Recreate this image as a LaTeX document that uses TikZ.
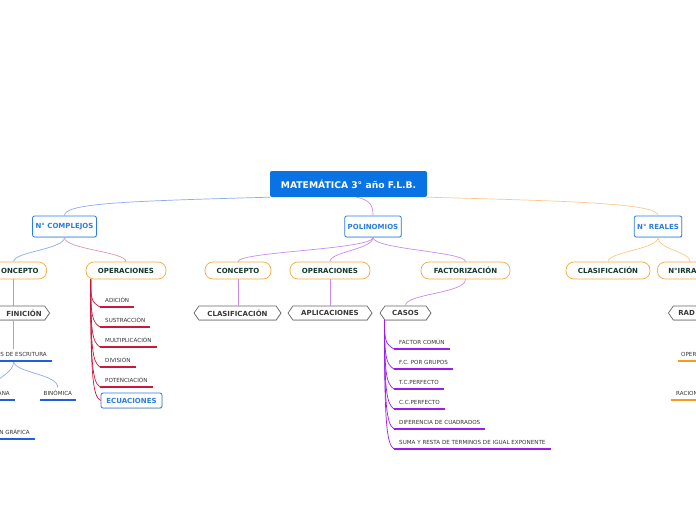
\documentclass[tikz,border=0pt]{standalone}
\usepackage{fontspec}
\setmainfont{DejaVu Sans}
\usepackage{tikz}
\usetikzlibrary{shapes.symbols, shadows}

\definecolor{rootblue}{HTML}{0A73E3}
\definecolor{topicblue}{HTML}{2A7DE1}
\definecolor{suborange}{HTML}{F5A83A}
\definecolor{subgreen}{HTML}{12392F}
\definecolor{taggray}{HTML}{666666}
\definecolor{tagtext}{HTML}{3A3A3A}
\definecolor{itemtext}{HTML}{333333}
\definecolor{linkblue}{HTML}{8FA9F2}
\definecolor{lineblue}{HTML}{1F5FE0}
\definecolor{linkpink}{HTML}{E396A6}
\definecolor{linered}{HTML}{C8193C}
\definecolor{linkpurple}{HTML}{C98AF0}
\definecolor{linepurple}{HTML}{9B1DEB}
\definecolor{linkorange}{HTML}{F9C98A}
\definecolor{lineorange}{HTML}{F79A1E}

\newcommand{\fsz}[1]{\fontsize{#1}{#1}\selectfont}

\begin{document}
\begin{tikzpicture}[x=1pt, y=-1pt,
  root/.style={rectangle, rounded corners=2pt, fill=rootblue, text=white,
               font=\fsz{9.2pt}\bfseries, minimum width=157pt, minimum height=26pt},
  topic/.style={rectangle, rounded corners=2pt, draw=topicblue, line width=0.8pt,
                fill=white, text=topicblue, font=\fsz{7pt}\bfseries,
                minimum height=21pt, inner xsep=3pt,
                drop shadow={opacity=0.25, shadow xshift=0.6pt, shadow yshift=-0.8pt}},
  sub/.style={rectangle, rounded corners=8pt, draw=suborange, line width=0.7pt,
              fill=white, text=subgreen, font=\fsz{7pt}\bfseries,
              minimum height=17pt, inner xsep=11pt},
  tag/.style={signal, signal to=west and east, signal pointer angle=110,
              draw=taggray, line width=0.7pt, fill=white, text=tagtext,
              font=\fsz{7pt}\bfseries, minimum height=14pt, inner xsep=3pt,
              drop shadow={opacity=0.3, shadow xshift=0.4pt, shadow yshift=-0.8pt}},
  item/.style={font=\fsz{5.6pt}, text=itemtext, inner xsep=5pt, inner ysep=4pt,
               text height=4pt, text depth=0pt},
  link/.style={line width=0.7pt},
  uline/.style={line width=1.2pt}
]
\useasboundingbox (0,0) rectangle (696,520);
\clip (0,0) rectangle (696,520);

% central topic and main branches
\node[root] (mat) at (348.5,184) {MATEMÁTICA 3° año F.L.B.};
\node[topic] (comp) at (64.5,226.5) {N° COMPLEJOS};
\node[topic] (poli) at (373,226.5) {POLINOMIOS};
\node[topic] (real) at (658,226.5) {N° REALES};

\node[sub, minimum width=66pt, anchor=east, text width=50pt, align=right, inner xsep=8pt] (conc1) at (47,270.5) {ONCEPTO};
\node[sub, minimum width=80pt] (ope1) at (126,270.5) {OPERACIONES};
\node[sub, minimum width=66pt] (conc2) at (238,270.5) {CONCEPTO};
\node[sub, minimum width=80pt] (ope2) at (330,270.5) {OPERACIONES};
\node[sub, minimum width=89pt] (fact) at (465.5,270.5) {FACTORIZACIÓN};
\node[sub, minimum width=84pt] (clas2) at (608,270.5) {CLASIFICACIÓN};
\node[sub, anchor=west, text width=40pt, align=left] (irra) at (657,270.5) {N°IRRA};

\node[tag, anchor=east, text width=55pt, align=right] (defi) at (50,313) {FINICIÓN};
\node[tag, minimum width=87pt] (clas1) at (237.5,313) {CLASIFICACIÓN};
\node[tag, minimum width=84pt] (apli) at (330,313) {APLICACIONES};
\node[tag, minimum width=51pt] (casos) at (405.5,313) {CASOS};
\node[tag, anchor=west, text width=35pt, align=left, inner xsep=5pt] (rad) at (668,313) {RAD};

% N° complejos
\node[item, anchor=south east] (form) at (52,361) {AS DE ESCRITURA};
\node[item, anchor=south east, text width=40pt, align=right] (cart) at (15,400) {ANA};
\node[item, anchor=south west, inner xsep=3.5pt] (bino) at (40,400) {BINÓMICA};
\node[item, anchor=south east] (graf) at (35,439) {N GRÁFICA};

\foreach \txt [count=\i] in {ADICIÓN, SUSTRACCIÓN, MULTIPLICACIÓN, DIVISIÓN, POTENCIACIÓN}
  \node[item, anchor=south west] (op\i) at (100,287+20*\i) {\txt};
\node[topic, minimum height=15pt, minimum width=61pt] (ecua) at (131.5,400.5) {ECUACIONES};

% polinomios
\foreach \txt [count=\i] in {{FACTOR COMÚN}, {F.C. POR GRUPOS}, {T.C.PERFECTO},
    {C.C.PERFECTO}, {DIFERENCIA DE CUADRADOS}, {SUMA Y RESTA DE TERMINOS DE IGUAL EXPONENTE}}
  \node[item, anchor=south west] (ca\i) at (394,329+20*\i) {\txt};

% N° reales
\node[item, anchor=south west, inner xsep=3pt] (oper) at (678,361) {OPER};
\node[item, anchor=south west] (raci) at (671,400) {RACION};

% connectors
\draw[link, linkblue] (mat.south west) .. controls +(-150,4) and +(0,-12) .. (comp.north);
\draw[link, linkpurple] ([xshift=8pt]mat.south) .. controls +(14,3) and +(0,-10) .. (poli.north);
\draw[link, linkorange] (mat.south east) .. controls +(150,4) and +(0,-12) .. (real.north);

\draw[link, linkblue] (comp.south) .. controls +(0,12) and +(0,-10) .. (conc1.north);
\draw[link, linkpink] (comp.south) .. controls +(0,12) and +(0,-10) .. (ope1.north);
\draw[link, linkpurple] (poli.south) .. controls +(0,12) and +(0,-10) .. (conc2.north);
\draw[link, linkpurple] (poli.south) .. controls +(0,12) and +(0,-10) .. (ope2.north);
\draw[link, linkpurple] (poli.south) .. controls +(0,12) and +(0,-10) .. (fact.north);
\draw[link, linkorange] (real.south) .. controls +(0,12) and +(0,-10) .. (clas2.north);
\draw[link, linkorange] (real.south) .. controls +(0,12) and +(0,-10) .. ([xshift=33pt]irra.north west);

\draw[link, linkpurple] (conc2.south) -- (conc2.south |- clas1.north);
\draw[link, linkpurple] (ope2.south) -- (ope2.south |- apli.north);
\draw[link, linkpurple] (fact.south) .. controls +(0,14) and +(0,-12) .. (casos.north);

\draw[link, linkblue] (conc1.south) -- (conc1.south |- defi.north);
\draw[link, linkblue] (conc1.south |- defi.south) -- (conc1.south |- form.north);
\draw[link, linkblue] (conc1.south |- form.south) .. controls +(0,12) and +(10,-12) .. (cart.north);
\draw[link, linkblue] (conc1.south |- form.south) .. controls +(0,12) and +(0,-14) .. (bino.north);
\foreach \n in {form, cart, bino, graf}
  \draw[uline, lineblue] (\n.south west) -- (\n.south east);

\foreach \i in {1,...,5} {
  \pgfmathsetmacro{\dy}{0.75*(8+20*\i)}
  \draw[link, linered] ([xshift=5pt]ope1.south west) .. controls +(0,\dy) and +(-8,-5) .. (op\i.south west);
  \draw[uline, linered] (op\i.south west) -- (op\i.south east);
}
\draw[link, linered] ([xshift=5pt]ope1.south west) .. controls +(0,95) and +(-8,-4) .. (ecua.west);

\foreach \i in {1,...,6} {
  \pgfmathsetmacro{\dy}{0.75*(9+20*\i)}
  \draw[link, linepurple] ([xshift=-21pt]casos.south) .. controls +(0,\dy) and +(-8,-5) .. (ca\i.south west);
  \draw[uline, linepurple] (ca\i.south west) -- (ca\i.south east);
}

\foreach \n in {oper, raci}
  \draw[uline, lineorange] (\n.south west) -- ([xshift=30pt]\n.south east);
\end{tikzpicture}
\end{document}
